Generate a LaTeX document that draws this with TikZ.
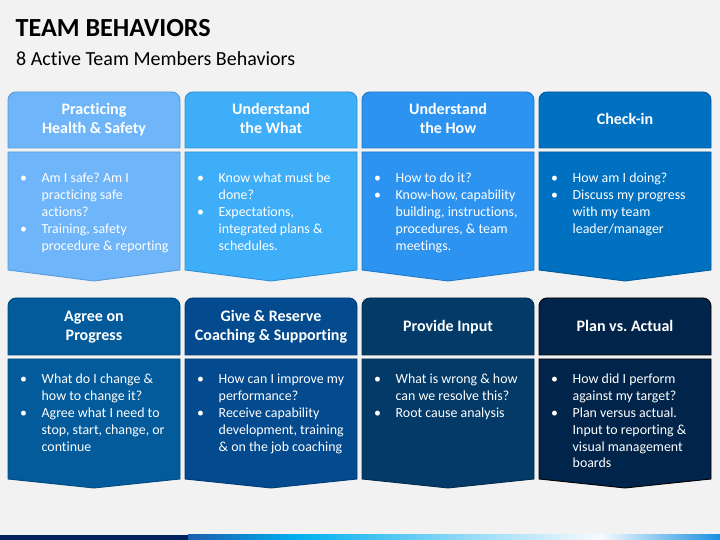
\documentclass[tikz,border=0pt]{standalone}
\usepackage{fontspec}
\setmainfont{Carlito}[Ligatures={NoCommon,NoRequired,NoContextual}]
\frenchspacing
\definecolor{bg}{HTML}{F2F2F2}
\definecolor{cA}{HTML}{6FB5FA}\definecolor{dA}{HTML}{5B9BD5}
\definecolor{cB}{HTML}{3FAEF9}\definecolor{dB}{HTML}{2E8FD5}
\definecolor{cC}{HTML}{2D93F0}\definecolor{dC}{HTML}{1F78C8}
\definecolor{cD}{HTML}{0070C0}\definecolor{dD}{HTML}{005A9E}
\definecolor{cE}{HTML}{035B9B}\definecolor{dE}{HTML}{024A80}
\definecolor{cF}{HTML}{034A8E}\definecolor{dF}{HTML}{023C74}
\definecolor{cG}{HTML}{033A68}\definecolor{dG}{HTML}{022C50}
\definecolor{cH}{HTML}{01244A}\definecolor{dH}{HTML}{000000}
\definecolor{navy}{HTML}{002060}
\definecolor{gA}{HTML}{1C5FAE}
\definecolor{gB}{HTML}{00B0F0}
\definecolor{gC}{HTML}{8ED8F5}
\definecolor{gD}{HTML}{F6FBFE}
\definecolor{gE}{HTML}{1890E0}
\newcommand\bl[1]{\hbox{\makebox[21.5pt][l]{\textbullet}#1}}
\newcommand\cl[1]{\hbox{\hspace*{21.5pt}#1}}
\newcommand\bodytext[1]{\vtop{\baselineskip=16.8pt #1}}
\newcommand\hdrtext[1]{\vtop{\baselineskip=19pt\halign{\hfil##\hfil\cr #1}}}
% #1 x-left, #2 header top, #3 header bottom, #4 body top, #5 side bottom, #6 point, #7 fill, #8 draw
\newcommand\tile[8]{%
  \pgfmathsetmacro\xa{#1}\pgfmathsetmacro\xb{#1+172}\pgfmathsetmacro\xm{#1+86}%
  \filldraw[fill=#7,draw=#8,line width=0.9pt]
    (\xa,{540-#3}) -- (\xa,{540-#2-8}) arc[start angle=180,end angle=90,radius=8pt]
    -- ({\xb-8},{540-#2}) arc[start angle=90,end angle=0,radius=8pt]
    -- (\xb,{540-#3}) -- cycle;
  \filldraw[fill=#7,draw=#8,line width=0.9pt]
    (\xa,{540-#4}) -- (\xb,{540-#4}) -- (\xb,{540-#5}) -- (\xm,{540-#6})
    -- (\xa,{540-#5}) -- cycle;
}
\tikzset{
  hdr/.style={inner sep=0pt,anchor=base,text=white,font=\fontsize{16}{19}\selectfont\bfseries},
  bod/.style={inner sep=0pt,anchor=base west,text=white,font=\fontsize{13.9}{16.8}\selectfont},
}
\begin{document}
\begin{tikzpicture}[x=1pt,y=1pt]
\fill[bg] (0,0) rectangle (720,540);
\useasboundingbox (0,0) rectangle (720,540);
% title
\node[inner sep=0pt,anchor=base west,font=\fontsize{26.1}{30}\selectfont\bfseries] (title) at (15.5,{540-37}) {TEAM BEHAVIORS};
\node[inner sep=0pt,anchor=base west,font=\fontsize{20}{24}\selectfont] (subtitle) at (16,{540-66}) {8 Active Team Members Behaviors};
% tiles row 1
\tile{8}{92}{148}{152}{270}{281}{cA}{dA}
\tile{185}{92}{148}{152}{270}{281}{cB}{dB}
\tile{362}{92}{148}{152}{270}{281}{cC}{dC}
\tile{539}{92}{148}{152}{270}{281}{cD}{dD}
% tiles row 2
\tile{8}{298}{355}{359}{479}{488}{cE}{dE}
\tile{185}{298}{355}{359}{479}{488}{cF}{dF}
\tile{362}{298}{355}{359}{479}{488}{cG}{dG}
\tile{539}{298}{355}{359}{479}{488}{cH}{dH}
% headers row 1
\node[hdr] (h1) at (94,{540-115}) {\hdrtext{Practicing\cr Health \& Safety\cr}};
\node[hdr] (h2) at (271,{540-115}) {\hdrtext{Understand\cr the What\cr}};
\node[hdr] (h3) at (448,{540-115}) {\hdrtext{Understand\cr the How\cr}};
\node[hdr] (h4) at (625,{540-125}) {\hdrtext{Check-in\cr}};
% headers row 2
\node[hdr] (h5) at (94,{540-322}) {\hdrtext{Agree on\cr Progress\cr}};
\node[hdr] (h6) at (271,{540-322}) {\hdrtext{Give \& Reserve\cr Coaching \& Supporting\cr}};
\node[hdr] (h7) at (448,{540-332}) {\hdrtext{Provide Input\cr}};
\node[hdr] (h8) at (625,{540-332}) {\hdrtext{Plan vs. Actual\cr}};
% bodies row 1
\node[bod] (b1) at (20,{540-183}) {\bodytext{\bl{Am I safe? Am I}\cl{practicing safe}\cl{actions?}\bl{Training, safety}\cl{procedure \& reporting}}};
\node[bod] (b2) at (197,{540-183}) {\bodytext{\bl{Know what must be}\cl{done?}\bl{Expectations,}\cl{integrated plans \&}\cl{schedules.}}};
\node[bod] (b3) at (374,{540-183}) {\bodytext{\bl{How to do it?}\bl{Know-how, capability}\cl{building, instructions,}\cl{procedures, \& team}\cl{meetings.}}};
\node[bod] (b4) at (551,{540-183}) {\bodytext{\bl{How am I doing?}\bl{Discuss my progress}\cl{with my team}\cl{leader/manager}}};
% bodies row 2
\node[bod] (b5) at (20,{540-384}) {\bodytext{\bl{What do I change \&}\cl{how to change it?}\bl{Agree what I need to}\cl{stop, start, change, or}\cl{continue}}};
\node[bod] (b6) at (197,{540-384}) {\bodytext{\bl{How can I improve my}\cl{performance?}\bl{Receive capability}\cl{development, training}\cl{\& on the job coaching}}};
\node[bod] (b7) at (374,{540-384}) {\bodytext{\bl{What is wrong \& how}\cl{can we resolve this?}\bl{Root cause analysis}}};
\node[bod] (b8) at (551,{540-384}) {\bodytext{\bl{How did I perform}\cl{against my target?}\bl{Plan versus actual.}\cl{Input to reporting \&}\cl{visual management}\cl{boards}}};
% bottom bar
\fill[navy] (0,0) rectangle (188,5);
\shade[left color=gA,right color=gB] (188,0) rectangle (299,5);
\shade[left color=gB,right color=gC] (298.5,0) rectangle (460,5);
\shade[left color=gC,right color=gD] (459.5,0) rectangle (601,5);
\shade[left color=gD,right color=gE] (600.5,0) rectangle (720,5);
\end{tikzpicture}
\end{document}
